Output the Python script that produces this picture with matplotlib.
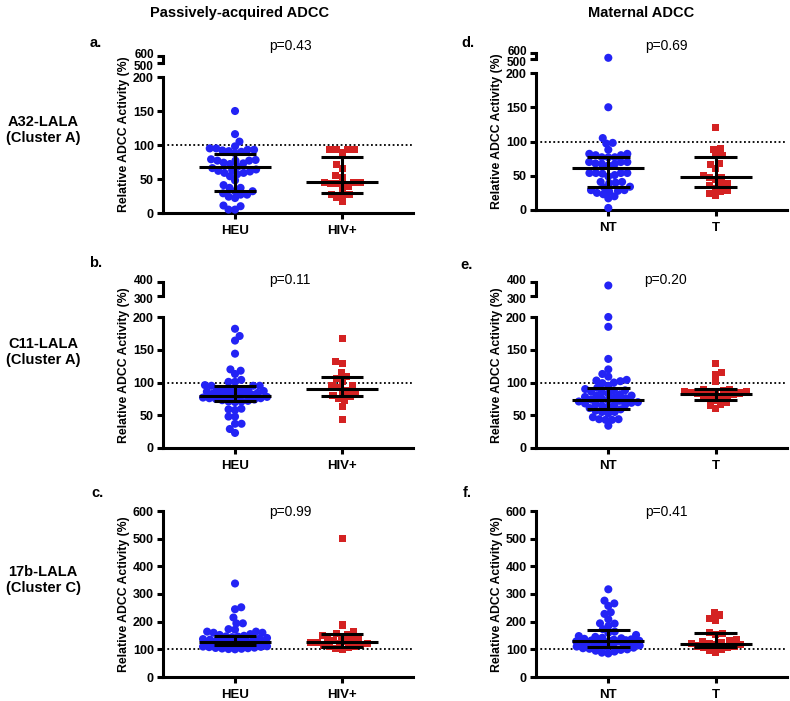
import numpy as np
import matplotlib
matplotlib.use("Agg")
import matplotlib.pyplot as plt
from matplotlib.transforms import ScaledTranslation

plt.rcParams['font.family'] = ['Liberation Sans', 'DejaVu Sans']

# ---------------- data ----------------
col_titles = ["Passively-acquired ADCC", "Maternal ADCC"]
row_labels = ["A32-LALA\n(Cluster A)", "C11-LALA\n(Cluster A)", "17b-LALA\n(Cluster C)"]
groups_left = ["HEU", "HIV+"]
groups_right = ["NT", "T"]
panel_letters = ["a.", "b.", "c.", "d.", "e.", "f."]
p_values = ["p=0.43", "p=0.11", "p=0.99", "p=0.69", "p=0.20", "p=0.41"]

a_heu = [150, 116, 105, 98, 95, 95, 93, 93, 92, 91, 90, 88, 79, 78, 77, 77, 77, 74, 73, 72,
         68, 66, 64, 63, 62, 61, 59, 59, 57, 54, 48, 41, 37, 37, 32, 32, 29, 27, 27, 24,
         22, 11, 10, 5, 5]
a_hiv = [94, 94, 94, 94, 89, 71, 66, 55, 52, 45, 45, 45, 43, 43, 39, 37, 27, 27, 27, 23, 17]
a_heu_stats = [33, 67, 87]   # q1, median, q3
a_hiv_stats = [29, 46, 83]

b_heu = [182, 171, 164, 144, 120, 118, 113, 104, 101, 101, 96, 95, 95, 95, 90, 89, 88, 88, 88,
         87, 87, 86, 84, 83, 82, 82, 81, 80, 80, 79, 78, 77, 76, 76, 75, 74, 73, 72, 71, 71,
         70, 60, 59, 58, 48, 48, 37, 37, 29, 23]
b_hiv = [167, 132, 129, 115, 109, 106, 102, 95, 95, 92, 88, 84, 84, 80, 78, 75, 72, 63, 44]
b_heu_stats = [71, 80, 95]
b_hiv_stats = [79, 90, 108]

c_heu = [338, 252, 245, 215, 194, 194, 173, 171, 164, 164, 160, 160, 155, 152, 149, 147, 146,
         144, 141, 139, 137, 135, 133, 131, 129, 128, 126, 125, 124, 123, 121, 120, 119, 118,
         116, 115, 114, 113, 112, 111, 110, 109, 108, 106, 105, 104, 103, 102, 101, 100]
c_hiv = [500, 188, 164, 158, 155, 150, 145, 140, 137, 135, 131, 128, 126, 125, 122, 120, 118,
         115, 112, 110, 106, 103, 100]
c_heu_stats = [114, 126, 149]
c_hiv_stats = [110, 128, 156]

d_nt = [520, 150, 105, 98, 97, 88, 82, 82, 80, 80, 77, 77, 77, 70, 70, 70, 68, 67, 67, 65,
        54, 54, 54, 54, 53, 51, 49, 41, 41, 40, 39, 34, 33, 29, 29, 28, 27, 25, 23, 20, 17, 3]
d_t = [120, 89, 88, 79, 79, 68, 66, 60, 51, 48, 47, 45, 39, 37, 36, 32, 29, 27, 24, 21]
d_nt_stats = [34, 62, 78]
d_t_stats = [34, 48, 78]

e_nt = [375, 200, 185, 136, 120, 113, 109, 104, 103, 102, 100, 99, 95, 92, 90, 88, 88, 86, 85,
        83, 82, 80, 80, 78, 77, 76, 75, 74, 73, 72, 71, 70, 69, 68, 67, 66, 66, 65, 63, 61,
        59, 57, 55, 55, 53, 47, 44, 44, 43, 43, 34]
e_t = [129, 115, 112, 102, 90, 90, 87, 86, 86, 85, 85, 84, 84, 83, 82, 80, 79, 78, 75, 73,
       69, 67, 65, 60]
e_nt_stats = [60, 74, 91]
e_t_stats = [74, 82, 90]

f_nt = [317, 276, 266, 257, 234, 228, 209, 194, 193, 185, 173, 164, 160, 152, 148, 145, 142,
        140, 138, 136, 135, 133, 132, 131, 130, 130, 129, 128, 127, 126, 125, 124, 122, 120,
        118, 116, 114, 112, 110, 108, 106, 104, 102, 100, 98, 95, 92, 88, 85]
f_t = [234, 224, 212, 206, 160, 158, 152, 137, 130, 128, 125, 122, 120, 118, 116, 112, 110,
       108, 105, 100, 95, 90]
f_nt_stats = [108, 130, 169]
f_t_stats = [108, 120, 159]

# ---------------- styling ----------------
W, H = 790, 701
BLUE = '#2323f5'
RED = '#d42222'
LW = 2.2
TICK_FS = 9
XLAB_FS = 9.5
YLAB_FS = 8.8
SEG_FS = 8.5
DIAM = 6.5      # minimal centre distance in the swarm (px)
MAXW = 32       # half width limit of a swarm (px)

fig = plt.figure(figsize=(W / 100, H / 100), dpi=100)


def add_ax(x0, x1, ytop, ybot):
    return fig.add_axes([x0 / W, 1 - ybot / H, (x1 - x0) / W, (ybot - ytop) / H])


def swarm_x(ax, xc, vals, d=DIAM, maxw=MAXW):
    vals = np.asarray(vals, float)
    pts = ax.transData.transform(np.column_stack([np.full(len(vals), xc), vals]))
    xc_pix = pts[0, 0]
    ys = pts[:, 1]
    order = np.argsort(ys, kind='stable')
    px, py = [], []
    offs = np.zeros(len(vals))
    grid = np.arange(-maxw, maxw + 0.01, 0.5)
    for k, i in enumerate(order):
        y = ys[i]
        cands = [0.0]
        for qx, qy in zip(px, py):
            dy = abs(y - qy)
            if dy < d:
                dx = np.sqrt(d * d - dy * dy)
                cands += [qx + dx, qx - dx]
        sign = 1 if k % 2 else -1
        cands = [c for c in cands if abs(c) <= maxw]
        cands.sort(key=lambda c: (round(abs(c), 3), sign * c))
        chosen = None
        for c in cands:
            if all((c - qx) ** 2 + (y - qy) ** 2 >= d * d - 1e-6 for qx, qy in zip(px, py)):
                chosen = c
                break
        if chosen is None:
            qx = np.array(px)
            qy = np.array(py)
            dist = np.sqrt((grid[:, None] - qx[None, :]) ** 2 + (y - qy[None, :]) ** 2).min(axis=1)
            best = dist.max()
            ok = grid[dist >= best - 0.05]
            chosen = ok[np.argmin(np.abs(ok))]
        px.append(chosen)
        py.append(y)
        offs[i] = chosen
    xs = ax.transData.inverted().transform(np.column_stack([xc_pix + offs, ys]))[:, 0]
    return xs


def style_main(ax, ymax, yticks, cats):
    for s in ['top', 'right']:
        ax.spines[s].set_visible(False)
    for s in ['left', 'bottom']:
        ax.spines[s].set_linewidth(LW)
    ax.set_xlim(-0.673, 1.663)
    ax.set_ylim(0, ymax)
    ax.set_yticks(yticks)
    ax.set_xticks([0, 1])
    ax.set_xticklabels(cats)
    ax.tick_params(axis='both', width=LW, length=4.5, labelsize=TICK_FS, pad=2)
    ax.tick_params(axis='x', labelsize=XLAB_FS, pad=4)
    for lab in ax.get_xticklabels() + ax.get_yticklabels():
        lab.set_fontweight('bold')
    ax.axhline(100, color='black', lw=1.3, ls=(0, (1, 1.4)), zorder=1)


def style_top(ax, lo, hi):
    for s in ['top', 'right', 'bottom']:
        ax.spines[s].set_visible(False)
    ax.spines['left'].set_linewidth(LW)
    ax.set_xlim(-0.673, 1.663)
    ax.set_ylim(lo, hi)
    ax.set_yticks([lo, hi])
    ax.set_xticks([])
    ax.tick_params(axis='y', width=LW, length=4.5, labelsize=SEG_FS, pad=2)
    labs = ax.get_yticklabels()
    for lab in labs:
        lab.set_fontweight('bold')
    labs[0].set_transform(labs[0].get_transform() + ScaledTranslation(0, -1.9 / 72, fig.dpi_scale_trans))
    labs[1].set_transform(labs[1].get_transform() + ScaledTranslation(0, 1.9 / 72, fig.dpi_scale_trans))
    ax.patch.set_visible(False)


def draw_group(ax_main, ax_top, xc, vals, stats, color, marker, cut):
    vals = np.asarray(vals, float)
    low = vals[vals <= cut]
    high = vals[vals > cut]
    size = 34 if marker == 'o' else 26
    xs = swarm_x(ax_main, xc, low)
    ax_main.scatter(xs, low, s=size, marker=marker, color=color, edgecolors='none',
                    clip_on=False, zorder=3)
    if len(high) and ax_top is not None:
        xs2 = swarm_x(ax_top, xc, high)
        ax_top.scatter(xs2, high, s=size, marker=marker, color=color, edgecolors='none',
                       clip_on=False, zorder=3)
    q1, med, q3 = stats
    ax_main.hlines(med, xc - 0.335, xc + 0.335, color='black', lw=LW, zorder=5)
    ax_main.hlines([q1, q3], xc - 0.2, xc + 0.2, color='black', lw=LW, zorder=5)
    ax_main.vlines(xc, q1, q3, color='black', lw=LW, zorder=5)


# ---------------- panels ----------------
panels = [
    dict(x0=163, x1=413, top=77, bot=213, ymax=200, yt=[0, 50, 100, 150, 200],
         seg=(56, 63, 500, 600), cats=groups_left, g=[(a_heu, a_heu_stats), (a_hiv, a_hiv_stats)],
         letter=panel_letters[0], lxy=(96, 43), p=p_values[0], pxy=(290, 46), ylx=124),
    dict(x0=163, x1=413, top=317, bot=448, ymax=200, yt=[0, 50, 100, 150, 200],
         seg=(282, 296, 300, 400), cats=groups_left, g=[(b_heu, b_heu_stats), (b_hiv, b_hiv_stats)],
         letter=panel_letters[1], lxy=(96, 263), p=p_values[1], pxy=(290, 280), ylx=124),
    dict(x0=163, x1=413, top=511, bot=677, ymax=600, yt=[0, 100, 200, 300, 400, 500, 600],
         seg=None, cats=groups_left, g=[(c_heu, c_heu_stats), (c_hiv, c_hiv_stats)],
         letter=panel_letters[2], lxy=(98, 493), p=p_values[2], pxy=(290, 512), ylx=124),
    dict(x0=536, x1=787, top=73, bot=210, ymax=200, yt=[0, 50, 100, 150, 200],
         seg=(53, 59, 500, 600), cats=groups_right, g=[(d_nt, d_nt_stats), (d_t, d_t_stats)],
         letter=panel_letters[3], lxy=(468, 43), p=p_values[3], pxy=(666, 46), ylx=497),
    dict(x0=536, x1=787, top=317, bot=448, ymax=200, yt=[0, 50, 100, 150, 200],
         seg=(282, 296, 300, 400), cats=groups_right, g=[(e_nt, e_nt_stats), (e_t, e_t_stats)],
         letter=panel_letters[4], lxy=(467, 265), p=p_values[4], pxy=(666, 280), ylx=497),
    dict(x0=536, x1=787, top=511, bot=677, ymax=600, yt=[0, 100, 200, 300, 400, 500, 600],
         seg=None, cats=groups_right, g=[(f_nt, f_nt_stats), (f_t, f_t_stats)],
         letter=panel_letters[5], lxy=(467, 493), p=p_values[5], pxy=(666, 512), ylx=497),
]

for P in panels:
    axm = add_ax(P['x0'], P['x1'], P['top'], P['bot'])
    style_main(axm, P['ymax'], P['yt'], P['cats'])
    axt = None
    ytop_px = P['top']
    if P['seg'] is not None:
        st, sb, lo, hi = P['seg']
        axt = add_ax(P['x0'], P['x1'], st, sb)
        style_top(axt, lo, hi)
        ytop_px = st
    for k, (vals, stats) in enumerate(P['g']):
        color = BLUE if k == 0 else RED
        marker = 'o' if k == 0 else 's'
        draw_group(axm, axt, k, vals, stats, color, marker, P['ymax'] + 1)
    fig.text(P['ylx'] / W, 1 - ((ytop_px + P['bot']) / 2) / H, "Relative ADCC Activity (%)",
             rotation=90, ha='center', va='center', fontsize=YLAB_FS, fontweight='bold')
    fig.text(P['lxy'][0] / W, 1 - P['lxy'][1] / H, P['letter'], ha='center', va='center',
             fontsize=10.5, fontweight='bold')
    fig.text(P['pxy'][0] / W, 1 - P['pxy'][1] / H, P['p'], ha='center', va='center',
             fontsize=10)

# row and column labels
for lab, yc in zip(row_labels, [130, 352, 580]):
    fig.text(43 / W, 1 - yc / H, lab, ha='center', va='center', fontsize=10.5,
             fontweight='bold', linespacing=1.15)
for lab, xc in zip(col_titles, [240, 641]):
    fig.text(xc / W, 1 - 13 / H, lab, ha='center', va='center', fontsize=10.5,
             fontweight='bold')

fig.savefig("out.png", dpi=100)
